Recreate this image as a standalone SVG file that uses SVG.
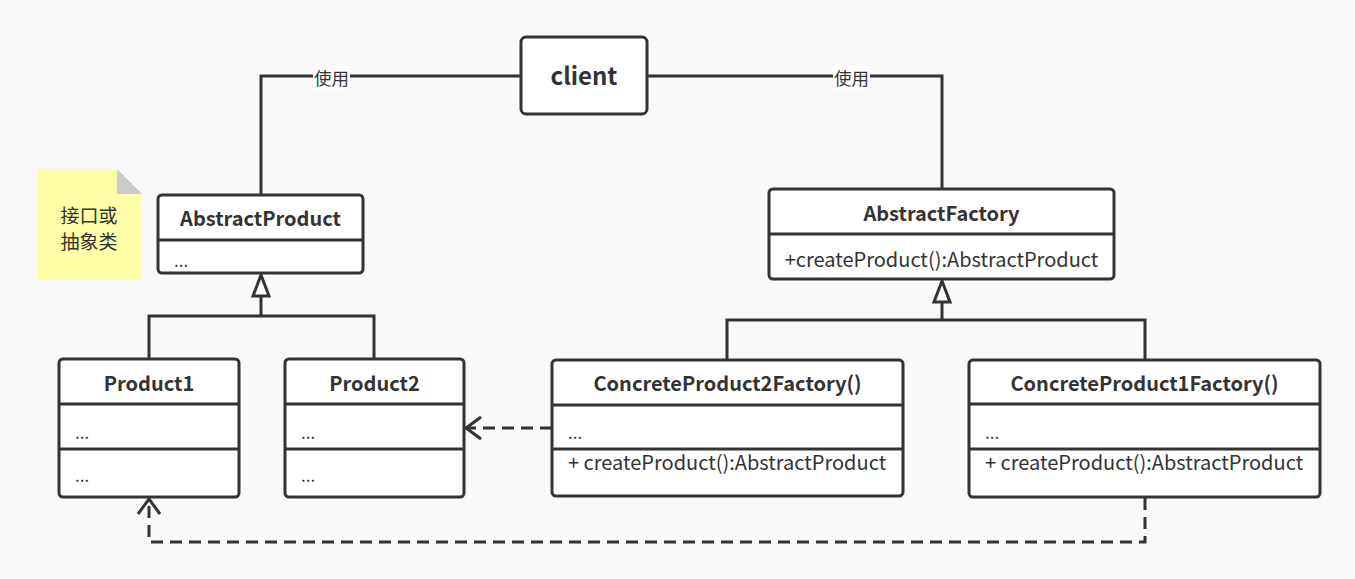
<svg xmlns="http://www.w3.org/2000/svg" width="1355" height="579" viewBox="0 0 1355 579">
<style>
.bg{fill:#f9f9f9}
.box{fill:#ffffff;stroke:#333333;stroke-width:3}
.div{stroke:#333333;stroke-width:3;fill:none}
.ln{stroke:#333333;stroke-width:3;fill:none}
.dash{stroke:#333333;stroke-width:3;fill:none;stroke-dasharray:12 7}
.t{font-family:"Noto Sans CJK SC","Noto Sans",sans-serif;fill:#333333}
.title{font-size:20px;font-weight:bold;text-anchor:middle}
.m{font-size:20px}
.dots{font-size:17px}
.lbl{font-size:17.5px;text-anchor:middle}
.note{font-size:19px;text-anchor:middle}
</style>
<defs>
<marker id="tri" markerUnits="userSpaceOnUse" viewBox="-2 -11 26 22" markerWidth="26" markerHeight="22" refX="0" refY="0" orient="auto" overflow="visible">
<path d="M0,-8 L21,0 L0,8 Z" fill="#ffffff" stroke="#333333" stroke-width="3" stroke-linejoin="miter"/>
</marker>
<marker id="open" markerUnits="userSpaceOnUse" viewBox="-20 -15 22 30" markerWidth="22" markerHeight="30" refX="0" refY="0" orient="auto" overflow="visible">
<path d="M-15,-11 L0,0 L-15,11" fill="none" stroke="#333333" stroke-width="3" stroke-dasharray="none"/>
</marker>
</defs>
<rect class="bg" x="0" y="0" width="1355" height="579"/>

<g id="connectors">
<path class="ln" d="M261 195 V76 H521"/>
<path class="ln" d="M647 76 H942 V189"/>
<rect x="313" y="66" width="37" height="23" fill="#ffffff"/>
<text class="t lbl" x="331.5" y="85">使用</text>
<rect x="833" y="66" width="37" height="23" fill="#ffffff"/>
<text class="t lbl" x="851.5" y="85">使用</text>
<path class="ln" d="M149 359 V316 H374 V359"/>
<path class="ln" d="M261 316 V296" marker-end="url(#tri)"/>
<path class="ln" d="M727 360 V320 H1145 V360"/>
<path class="ln" d="M942 320 V302" marker-end="url(#tri)"/>
<path class="dash" d="M552 428 H466" marker-end="url(#open)"/>
<path class="dash" d="M1145 498 V542 H149 V499" marker-end="url(#open)"/>
</g>

<g id="note">
<path d="M38 169 H117 L142 194 V279 H38 Z" fill="#ffffa8"/>
<path d="M117 169 L142 194 H117 Z" fill="#cccccc"/>
<text class="t note" x="89" y="223">接口或</text>
<text class="t note" x="89" y="249">抽象类</text>
</g>

<g id="client">
<rect class="box" x="521" y="37" width="126" height="77" rx="5"/>
<text class="t" x="584" y="85" font-size="24" font-weight="bold" text-anchor="middle">client</text>
</g>

<g id="AbstractProduct">
<rect class="box" x="158" y="195" width="205" height="78" rx="4"/>
<path class="div" d="M158 240 H363"/>
<text class="t title" x="260.5" y="226">AbstractProduct</text>
<text class="t dots" x="174" y="267">...</text>
</g>

<g id="AbstractFactory">
<rect class="box" x="769" y="189" width="345" height="90" rx="4"/>
<path class="div" d="M769 234 H1114"/>
<text class="t title" x="941.5" y="221">AbstractFactory</text>
<text class="t m" x="941.5" y="267" text-anchor="middle">+createProduct():AbstractProduct</text>
</g>

<g id="Product1">
<rect class="box" x="59" y="359" width="180" height="138" rx="4"/>
<path class="div" d="M59 404 H239 M59 449 H239"/>
<text class="t title" x="149" y="391">Product1</text>
<text class="t dots" x="75" y="439">...</text>
<text class="t dots" x="75" y="482">...</text>
</g>

<g id="Product2">
<rect class="box" x="285" y="359" width="179" height="138" rx="4"/>
<path class="div" d="M285 404 H464 M285 449 H464"/>
<text class="t title" x="374.5" y="391">Product2</text>
<text class="t dots" x="301" y="439">...</text>
<text class="t dots" x="301" y="482">...</text>
</g>

<g id="ConcreteProduct2Factory">
<rect class="box" x="552" y="360" width="351" height="136" rx="4"/>
<path class="div" d="M552 405 H903 M552 449 H903"/>
<text class="t title" x="727.5" y="391">ConcreteProduct2Factory()</text>
<text class="t dots" x="568" y="439">...</text>
<text class="t m" x="568" y="470">+ createProduct():AbstractProduct</text>
</g>

<g id="ConcreteProduct1Factory">
<rect class="box" x="969" y="360" width="351" height="137" rx="4"/>
<path class="div" d="M969 404 H1320 M969 449 H1320"/>
<text class="t title" x="1144.5" y="391">ConcreteProduct1Factory()</text>
<text class="t dots" x="985" y="439">...</text>
<text class="t m" x="985" y="470">+ createProduct():AbstractProduct</text>
</g>
</svg>
